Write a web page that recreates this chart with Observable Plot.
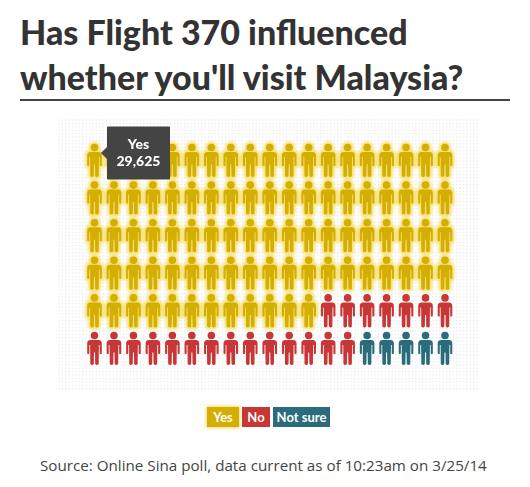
<!DOCTYPE html>
<html><head><meta charset="utf-8">
<script src="https://cdn.jsdelivr.net/npm/d3@7"></script>
<script src="https://cdn.jsdelivr.net/npm/@observablehq/plot@0.6"></script>
<style>
html,body{margin:0;padding:0;background:#fff;}
#wrap{position:relative;width:530px;height:487px;overflow:hidden;}
#title{position:absolute;left:20px;top:9px;width:490px;height:90px;margin:0;border-bottom:2px solid #444;
  font:900 34px/45px Lato,sans-serif;color:#333;white-space:nowrap;}
#chart{position:absolute;left:0;top:0;}
#legend{position:absolute;left:0;top:407px;width:530px;height:20px;}
#legend span{position:absolute;top:0;height:20px;text-align:center;color:#fff;font:700 13px/20px Lato,sans-serif;}
#source{position:absolute;left:40px;top:456px;font:15.2px/18px "Open Sans",sans-serif;color:#444;white-space:nowrap;}
</style></head>
<body><div id="wrap">
<h1 id="title">Has Flight 370 influenced<br>whether you'll visit Malaysia?</h1>
<div id="chart"></div>
<div id="legend"></div>
<div id="source">Source: Online Sina poll, data current as of 10:23am on 3/25/14</div>
</div>
<script>
const categories = ["Yes", "No", "Not sure"];
const iconCounts = [88, 21, 5];
const colors = ["#d4ae00", "#c93636", "#2a6b7c"];
const yesVotes = "29,625";
const columns = 19;

const answers = categories.flatMap((c, i) => Array.from({length: iconCounts[i]}, () => c));
const people = answers.map((answer, i) => ({answer, col: i % columns, row: Math.floor(i / columns)}));

const person = {
  draw(c) {
    c.moveTo(3.8, -13); c.arc(0, -13, 3.8, 0, 2 * Math.PI); c.closePath();
    c.moveTo(-4, -8.5); c.lineTo(4, -8.5);
    c.quadraticCurveTo(7.3, -8.5, 7.3, -5);
    c.lineTo(7.3, 5); c.quadraticCurveTo(6.2, 6.2, 5.2, 5);
    c.lineTo(5.2, -3.5); c.lineTo(4.4, -3.5);
    c.lineTo(4.2, 15.5); c.quadraticCurveTo(2.5, 17.5, 0.7, 15.5);
    c.lineTo(0.5, 4); c.lineTo(-0.5, 4);
    c.lineTo(-0.7, 15.5); c.quadraticCurveTo(-2.5, 17.5, -4.2, 15.5);
    c.lineTo(-4.4, -3.5); c.lineTo(-5.2, -3.5);
    c.lineTo(-5.2, 5); c.quadraticCurveTo(-6.2, 6.2, -7.3, 5);
    c.lineTo(-7.3, -5); c.quadraticCurveTo(-7.3, -8.5, -4, -8.5);
    c.closePath();
  }
};

const chart = Plot.plot({
  width: 530, height: 400,
  marginLeft: 58, marginRight: 52, marginTop: 118, marginBottom: 10,
  style: {color: "#fff", background: "transparent"},
  x: {domain: [0, columns - 1], range: [94, 444.5], axis: null},
  y: {domain: [0, 5], range: [160, 348], axis: null},
  color: {domain: categories, range: colors},
  marks: [
    () => d3.create("svg:defs").html(`<pattern id="dots" width="3.4" height="3.4" patternUnits="userSpaceOnUse"><rect width="1.2" height="1.2" fill="#e6e6e6"/></pattern>`).node(),
    Plot.frame({fill: "url(#dots)", stroke: "none"}),
    Plot.dot(people.filter(d => d.answer === categories[0]), {
      x: "col", y: "row", symbol: person, r: 5, fill: "#f6e27a", stroke: "#f6e27a", strokeWidth: 4.5, imageFilter: "blur(1px)"
    }),
    Plot.dot(people, {x: "col", y: "row", symbol: person, r: 5, fill: "answer", stroke: "none"}),
    Plot.tip([{col: 0, row: 0, label: `${categories[0]}\n${yesVotes}`}], {
      x: "col", y: "row", title: "label", anchor: "left", dx: 7, dy: -7.5,
      fill: "#444", stroke: "#444", pathFilter: "none", textAnchor: "middle", textPadding: 9,
      fontSize: 14, fontWeight: 900, fontFamily: "Lato", lineHeight: 1.2
    })
  ]
});
document.getElementById("chart").append(chart);

const legend = document.getElementById("legend");
const chips = [[207, 32], [242, 28], [273, 57]];
categories.forEach((c, i) => {
  const s = document.createElement("span");
  s.textContent = c;
  s.style.left = chips[i][0] + "px";
  s.style.width = chips[i][1] + "px";
  s.style.background = colors[i];
  if (i === 0) s.style.boxShadow = "0 0 3px 1px #f4de6e";
  legend.append(s);
});
</script>
</body></html>
